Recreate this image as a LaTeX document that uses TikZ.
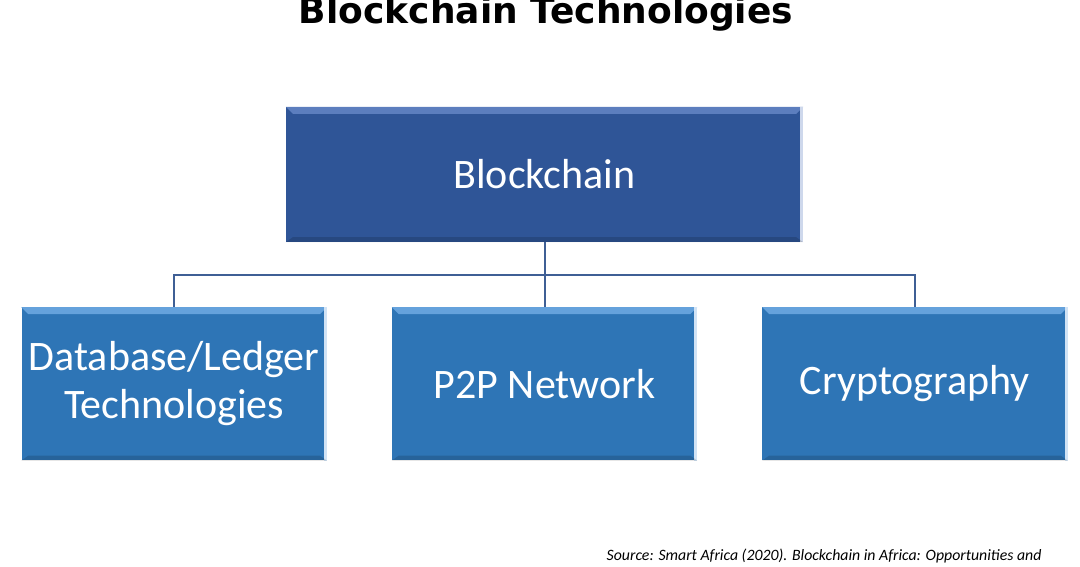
\documentclass[tikz,border=0pt]{standalone}
\usepackage{fontspec}
\setmainfont{Carlito}
\newfontfamily\headfont{DejaVu Sans}
\usetikzlibrary{positioning}
\definecolor{rootblue}{HTML}{2F5597}
\definecolor{leafblue}{HTML}{2E75B6}
\definecolor{edgeblue}{HTML}{3F5F95}
\definecolor{rootlight}{HTML}{5C7EBE}
\definecolor{leaflight}{HTML}{65A2DC}

% light bevel along the top and right of a box
\newcommand{\bevelbox}[2]{%
  \fill[#2] (#1.north west) -- (#1.north east) -- ([xshift=-7pt,yshift=-7pt]#1.north east)
    -- ([xshift=7pt,yshift=-7pt]#1.north west) -- cycle;
  \fill[white!70!#2] ([xshift=-3pt]#1.north east) rectangle (#1.south east);
  \fill[black,opacity=0.15] (#1.south west) -- (#1.south east) -- ([xshift=-7pt,yshift=5pt]#1.south east)
    -- ([xshift=7pt,yshift=5pt]#1.south west) -- cycle;
}

\begin{document}
\begin{tikzpicture}[x=1pt,y=1pt, box/.style={rectangle, draw=none, text=white, align=center, inner sep=0pt, font=\fontsize{42}{48}\selectfont}, root/.style={box, fill=rootblue, minimum width=517pt, minimum height=135pt}, leaf/.style={box, fill=leafblue, minimum width=305pt, minimum height=153pt}, link/.style={draw=edgeblue, line width=2pt}]
            \useasboundingbox (0,0) rectangle (1080,566);
            % Nodes
            \node[anchor=base, font=\headfont\bfseries\fontsize{36}{40}\selectfont] (title) at (546,542) {Blockchain Technologies};
            \node[root] (chain) at (544.5,391.5) {Blockchain};
            \node[leaf, below=65pt of chain] (p2p) {P2P Network};
            \node[leaf, left=65pt of p2p] (ledger) {Database/Ledger\\Technologies};
            \node[leaf, right=65pt of p2p] (crypto) {Cryptography};
            \coordinate[below=33pt of chain] (bus);
            \bevelbox{chain}{rootlight}
            \bevelbox{p2p}{leaflight}
            \bevelbox{ledger}{leaflight}
            \bevelbox{crypto}{leaflight}
            % Edges
            \draw[link] (chain.south) -- (bus);
            \draw[link] (bus) -| (ledger.north);
            \draw[link] (bus) -- (p2p.north);
            \draw[link] (bus) -| (crypto.north);
            \node[anchor=base east, font=\itshape\fontsize{15.8}{18}\selectfont] (source) at (1045,6) {Source: Smart Africa (2020). Blockchain in Africa: Opportunities and};
        \end{tikzpicture}
\end{document}
